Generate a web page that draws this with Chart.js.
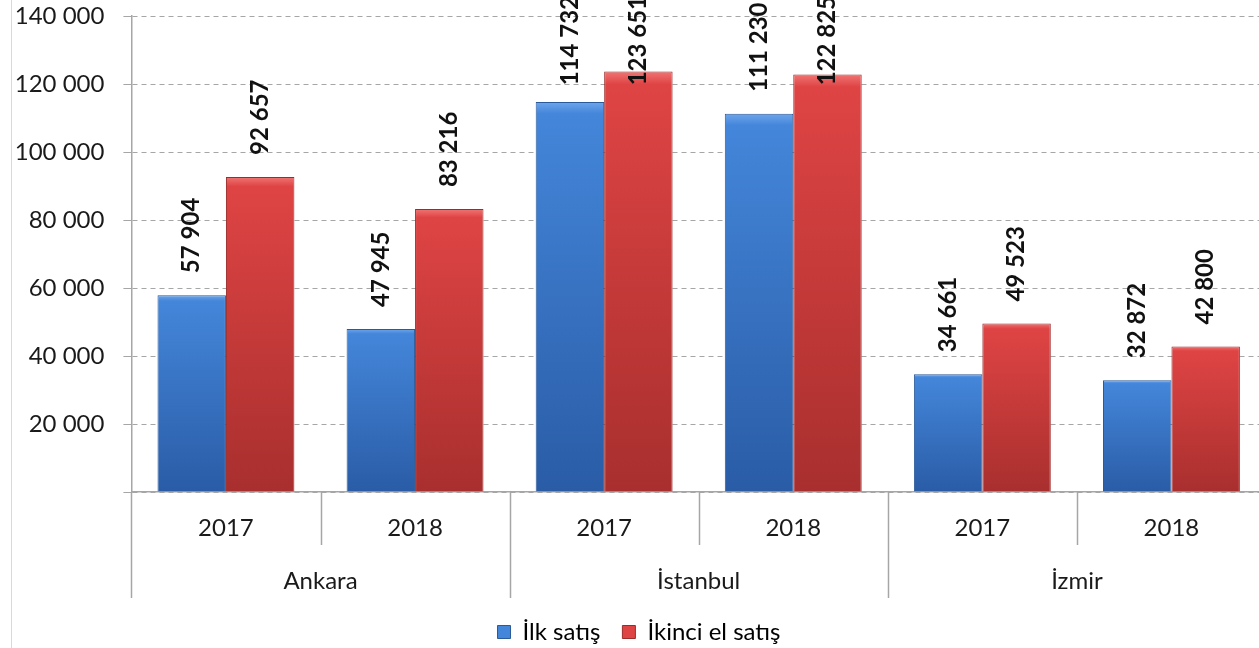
<!DOCTYPE html>
<html lang="tr">
<head>
<meta charset="utf-8">
<title>İlk satış ve ikinci el satış</title>
<script src="https://cdn.jsdelivr.net/npm/chart.js@4/dist/chart.umd.min.js"></script>
<style>
  html, body { margin: 0; padding: 0; background: #fff; overflow: hidden; }
  #frame { position: absolute; left: 11px; top: 0; width: 1px; height: 648px; background: #d9d9d9; }
  #wrap { position: absolute; left: 12px; top: 0; width: 1262px; height: 648px; }
</style>
</head>
<body>
<div id="frame"></div>
<div id="wrap"><canvas id="salesChart"></canvas></div>
<script>
// categories: year under each city
const years = ['2017', '2018', '2017', '2018', '2017', '2018'];
const cities = ['Ankara', 'İstanbul', 'İzmir'];

// series values
const firstSales = [57904, 47945, 114732, 111230, 34661, 32872];
const secondHandSales = [92657, 83216, 123651, 122825, 49523, 42800];

const yTicks = [0, 20000, 40000, 60000, 80000, 100000, 120000, 140000];

const FONT = 'Lato';
const BLUE = ['#6ea6ec', '#4486da', '#2a5ca6'];
const RED = ['#f07474', '#df4444', '#a82f2e'];

// "57 904" style numbers
function fmt(v) {
    return String(v).replace(/\B(?=(\d{3})+(?!\d))/g, ' ');
}

// vertical shading per bar, lighter at the top edge
function barShade(c, stops) {
    const chart = c.chart;
    if (c.type !== 'data' || !chart.chartArea) return stops[1];
    const y = chart.scales.y;
    const top = y.getPixelForValue(c.raw);
    const bottom = y.getPixelForValue(0);
    const g = chart.ctx.createLinearGradient(0, top, 0, bottom);
    g.addColorStop(0, stops[0]);
    g.addColorStop(0.03, stops[1]);
    g.addColorStop(1, stops[2]);
    return g;
}

// rotated value labels above the bars, kept inside the canvas
const valueLabels = {
    id: 'valueLabels',
    afterDatasetsDraw(chart) {
        const ctx = chart.ctx;
        ctx.save();
        ctx.font = 'bold 24px ' + FONT;
        ctx.fillStyle = '#111';
        ctx.textAlign = 'left';
        ctx.textBaseline = 'middle';
        chart.data.datasets.forEach((ds, di) => {
            chart.getDatasetMeta(di).data.forEach((bar, i) => {
                const text = fmt(ds.data[i]);
                const w = ctx.measureText(text).width;
                const start = Math.max(bar.y - 22, w - 4);
                ctx.save();
                ctx.translate(bar.x, start);
                ctx.rotate(-Math.PI / 2);
                ctx.fillText(text, 0, 0);
                ctx.restore();
            });
        });
        ctx.restore();
    }
};

// vertical separators of the two-level category axis
const categoryDividers = {
    id: 'categoryDividers',
    afterDraw(chart) {
        const x = chart.scales.x;
        const city = chart.scales.city;
        const ctx = chart.ctx;
        const step = x.getPixelForValue(1) - x.getPixelForValue(0);
        const first = x.getPixelForValue(0) - step / 2;
        ctx.save();
        ctx.strokeStyle = '#a6a6a6';
        ctx.lineWidth = 1.5;
        for (let k = 0; k <= years.length; k++) {
            const px = Math.round(first + k * step) + 0.5;
            const end = k % 2 === 0 ? city.bottom : x.bottom;
            ctx.beginPath();
            ctx.moveTo(px, x.top);
            ctx.lineTo(px, end);
            ctx.stroke();
        }
        ctx.restore();
    }
};

new Chart(document.getElementById('salesChart'), {
    type: 'bar',
    data: {
        labels: years,
        datasets: [
            {
                label: 'İlk satış',
                data: firstSales,
                backgroundColor: c => barShade(c, BLUE),
                borderColor: '#2b5a99',
                borderWidth: 1,
                legendColor: BLUE[1]
            },
            {
                label: 'İkinci el satış',
                data: secondHandSales,
                backgroundColor: c => barShade(c, RED),
                borderColor: '#9c2c2b',
                borderWidth: 1,
                legendColor: RED[1]
            }
        ]
    },
    options: {
        responsive: true,
        maintainAspectRatio: false,
        animation: false,
        layout: { padding: { top: 0, right: 8, left: 0, bottom: 0 } },
        datasets: {
            bar: { barPercentage: 1, categoryPercentage: 0.724 }
        },
        plugins: {
            legend: {
                position: 'bottom',
                maxHeight: 50,
                labels: {
                    font: { family: FONT, size: 24 },
                    color: '#1a1a1a',
                    boxWidth: 13,
                    boxHeight: 13,
                    padding: 22,
                    generateLabels(chart) {
                        return chart.data.datasets.map((ds, i) => ({
                            text: ds.label,
                            fillStyle: ds.legendColor,
                            strokeStyle: ds.borderColor,
                            lineWidth: 1,
                            datasetIndex: i
                        }));
                    }
                }
            },
            tooltip: { enabled: false }
        },
        scales: {
            y: {
                min: 0,
                max: 140000,
                afterBuildTicks(scale) {
                    scale.ticks = yTicks.map(v => ({ value: v }));
                },
                afterFit(scale) {
                    scale.width = 119.4;
                    scale.paddingTop = 16;
                },
                grid: {
                    color: '#a6a6a6',
                    tickColor: '#a6a6a6',
                    tickLength: 8,
                    tickBorderDash: []
                },
                // dash here applies to the horizontal grid lines
                border: { display: true, color: '#a6a6a6', width: 1.5, dash: [5, 4] },
                ticks: {
                    padding: 19,
                    color: '#1a1a1a',
                    font: { family: FONT, size: 24 },
                    callback: v => (v === 0 ? '' : fmt(v))
                }
            },
            x: {
                grid: { display: false, drawTicks: false },
                border: { display: true, color: '#a6a6a6', width: 1.5 },
                afterFit(scale) { scale.height = 53; },
                ticks: {
                    padding: 22,
                    color: '#1a1a1a',
                    maxRotation: 0,
                    font: { family: FONT, size: 24 }
                }
            },
            city: {
                axis: 'x',
                type: 'category',
                position: 'bottom',
                labels: cities,
                offset: true,
                grid: { display: false, drawTicks: false },
                border: { display: false },
                afterFit(scale) { scale.height = 53; },
                ticks: {
                    padding: 22,
                    color: '#1a1a1a',
                    maxRotation: 0,
                    font: { family: FONT, size: 24 }
                }
            }
        }
    },
    plugins: [valueLabels, categoryDividers]
});
</script>
</body>
</html>
